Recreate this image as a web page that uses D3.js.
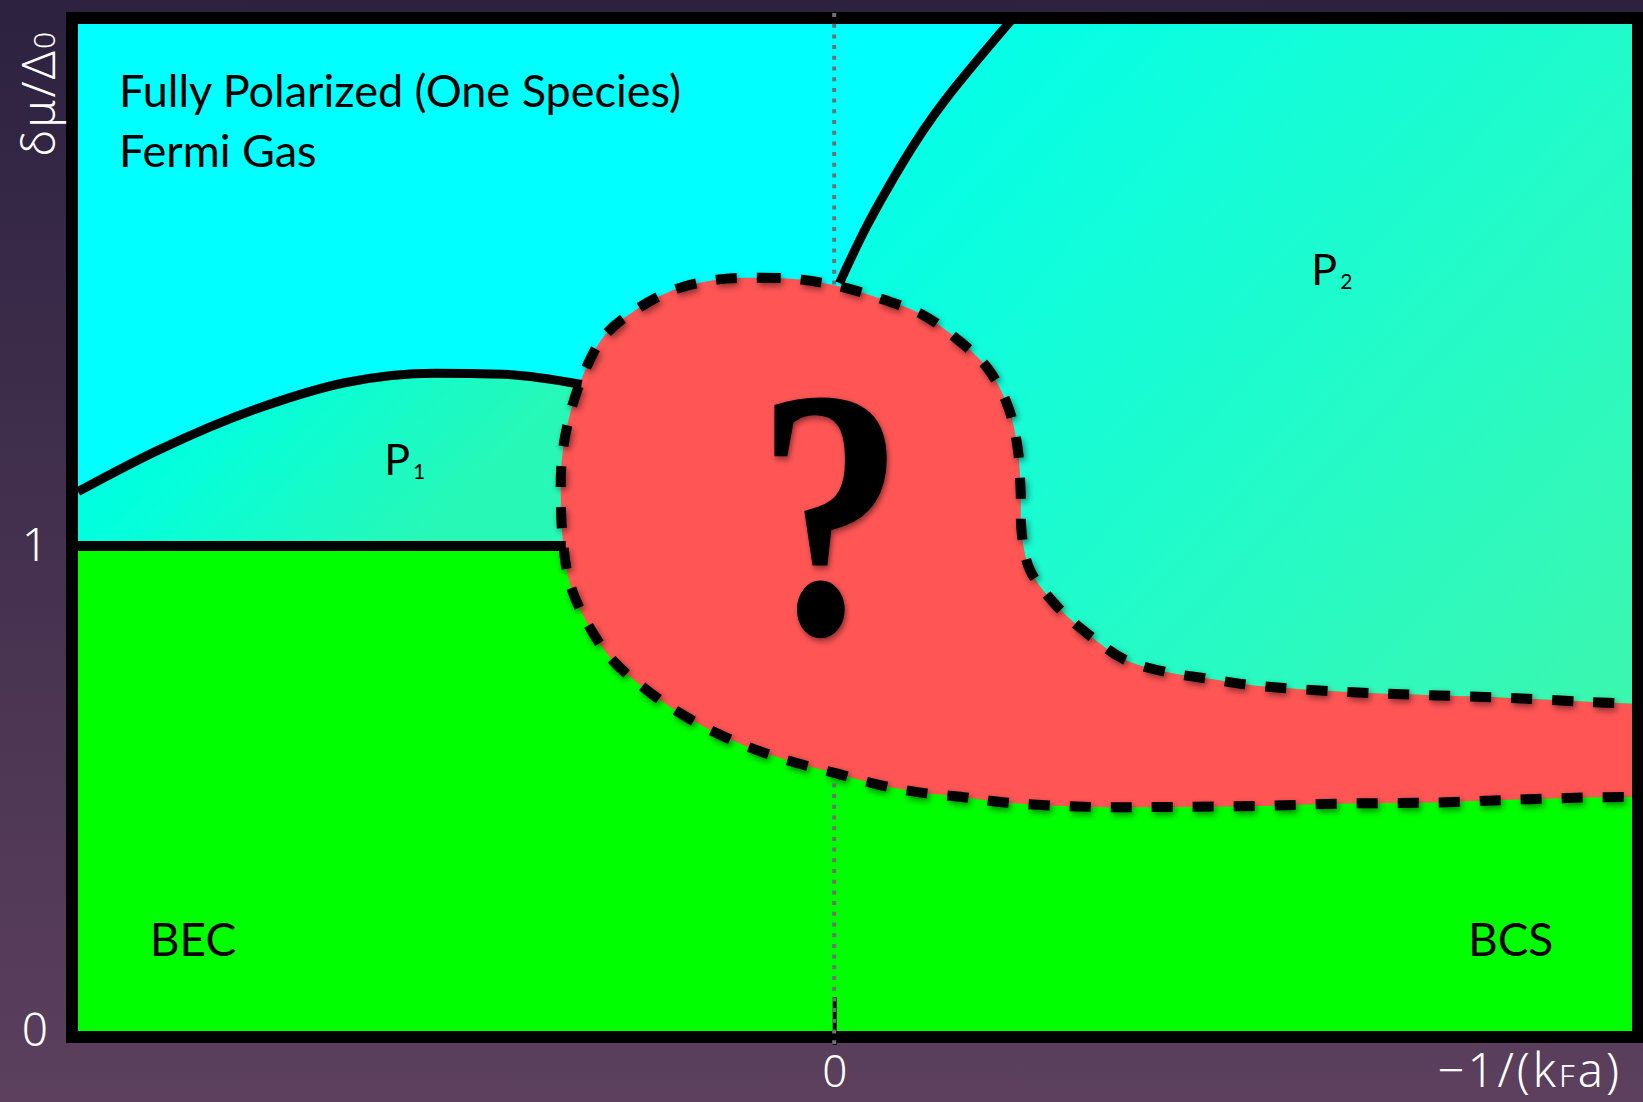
<!DOCTYPE html>
<html><head><meta charset="utf-8">
<script src="https://cdn.jsdelivr.net/npm/d3@7"></script>
<style>html,body{margin:0;padding:0;background:#2c2240;overflow:hidden;} svg{display:block;}</style>
</head><body>
<script>
const W = 1643, H = 1102;

// axes
const xDomain = [-2, 2.11];
const yDomain = [0, 2.076];
const xTicks = [0];
const yTicks = [0, 1];
const yLabel = "δμ/Δ";
const yLabelSub = "0";
const xLabelParts = ["−1/(k", "F", "a)"];

// phase boundaries (x = -1/(kF a), y = δμ/Δ0)
const p1Boundary = [[-2.0,1.112],[-1.789,1.197],[-1.512,1.287],[-1.291,1.337],[-1.055,1.356],[-0.875,1.354],[-0.668,1.333]];
const p1Floor = [[-2.0,1.0],[-0.71,1.0]];
const p2Boundary = [[0.014,1.542],[0.086,1.659],[0.175,1.782],[0.294,1.920],[0.474,2.089],[0.524,2.136]];
// unknown region outline, clockwise from the top
const unknownRegion = [
  [-0.310,1.549],[-0.197,1.553],[-0.086,1.549],[0.025,1.533],[0.130,1.508],[0.233,1.477],
  [0.327,1.425],[0.407,1.365],[0.460,1.287],[0.485,1.203],[0.493,1.114],[0.496,1.026],
  [0.518,0.950],[0.590,0.875],[0.681,0.812],[0.770,0.765],[0.884,0.739],[0.992,0.726],
  [1.102,0.713],[1.330,0.700],[1.548,0.693],[1.776,0.687],[2.006,0.678],[2.2,0.673],
  [2.35,0.673],[2.35,0.482],[2.2,0.482],[2.025,0.482],[1.806,0.477],[1.584,0.471],
  [1.355,0.469],[1.127,0.464],[0.900,0.462],[0.681,0.462],[0.452,0.471],[0.343,0.482],
  [0.224,0.492],[0.116,0.508],[0.006,0.531],[-0.102,0.553],[-0.205,0.579],[-0.316,0.616],
  [-0.416,0.659],[-0.504,0.708],[-0.587,0.765],[-0.651,0.838],[-0.698,0.920],[-0.717,1.006],
  [-0.723,1.095],[-0.720,1.181],[-0.698,1.274],[-0.662,1.356],[-0.609,1.432],[-0.526,1.486],
  [-0.427,1.527]
];

const regionLabels = [
  {text:"BEC", x:-1.81, y:0.155},
  {text:"BCS", x:1.676, y:0.155}
];
const phaseLabels = [
  {main:"P", sub:"1", x:-1.19, y:1.147},
  {main:"P", sub:"2", x:1.262, y:1.538}
];
const titleLines = ["Fully Polarized (One Species)", "Fermi Gas"];

const L = 78, R = 1632, T = 24, B = 1031;
const x = d3.scaleLinear().domain(xDomain).range([L, R]);
const y = d3.scaleLinear().domain(yDomain).range([B, T]);

const svg = d3.select("body").append("svg").attr("width", W).attr("height", H);
const defs = svg.append("defs");

const bg = defs.append("linearGradient").attr("id","bgGrad").attr("x1",0).attr("y1",0).attr("x2",0).attr("y2",1);
bg.append("stop").attr("offset","0%").attr("stop-color","#2c2240");
bg.append("stop").attr("offset","100%").attr("stop-color","#5c405e");

const g2 = defs.append("linearGradient").attr("id","p2Grad").attr("gradientUnits","userSpaceOnUse")
  .attr("x1",900).attr("y1",30).attr("x2",1632).attr("y2",720);
g2.append("stop").attr("offset","0%").attr("stop-color","#00ffec");
g2.append("stop").attr("offset","100%").attr("stop-color","#3cf7ae");

const g1 = defs.append("linearGradient").attr("id","p1Grad").attr("gradientUnits","userSpaceOnUse")
  .attr("x1",250).attr("y1",370).attr("x2",420).attr("y2",545);
g1.append("stop").attr("offset","0%").attr("stop-color","#00ffdf");
g1.append("stop").attr("offset","100%").attr("stop-color","#28f8b6");

const f = defs.append("filter").attr("id","shadow").attr("x","-20%").attr("y","-20%").attr("width","140%").attr("height","140%");
f.append("feDropShadow").attr("dx",2).attr("dy",3).attr("stdDeviation",3).attr("flood-color","#000").attr("flood-opacity",0.45);

defs.append("clipPath").attr("id","plotClip").append("rect")
  .attr("x",L).attr("y",T).attr("width",R-L).attr("height",B-T);

svg.append("rect").attr("width",W).attr("height",H).attr("fill","url(#bgGrad)");

const plot = svg.append("g").attr("clip-path","url(#plotClip)");
plot.append("rect").attr("x",L).attr("y",T).attr("width",R-L).attr("height",B-T).attr("fill","#00ffff");
plot.append("rect").attr("x",L).attr("y",y(1)).attr("width",R-L).attr("height",B-y(1)).attr("fill","#00ff00");

const smoothLine = d3.line().x(d=>x(d[0])).y(d=>y(d[1])).curve(d3.curveMonotoneX);
const naturalLine = d3.line().x(d=>x(d[0])).y(d=>y(d[1])).curve(d3.curveNatural);
const openLine = d3.line().x(d=>x(d[0])).y(d=>y(d[1])).curve(d3.curveCatmullRom.alpha(0.5));

// P1 region
const p1Fill = p1Boundary.concat([[-0.55,1.333]]);
const area1 = d3.area().x(d=>x(d[0])).y0(y(1)).y1(d=>y(d[1])).curve(d3.curveMonotoneX);
plot.append("path").attr("d", area1(p1Fill)).attr("fill","url(#p1Grad)");

// P2 region
const seg = unknownRegion.slice(3, 25).reverse();
const p2d = naturalLine(p2Boundary) + `L${x(2.35)},${y(2.2)}` + openLine(seg).replace(/^M/,"L") + "Z";
plot.append("path").attr("d", p2d).attr("fill","url(#p2Grad)");

// frame
svg.append("rect").attr("x",72).attr("y",18).attr("width",1566).attr("height",1019)
  .attr("fill","none").attr("stroke","#000").attr("stroke-width",12);

// axes
const fontAxis = "'Noto Sans', 'DejaVu Sans', sans-serif";
const yAxis = d3.axisLeft(y).tickValues(yTicks).tickSize(0).tickPadding(18).tickFormat(d3.format("d"));
const ya = svg.append("g").attr("transform","translate(66,0)").call(yAxis);
ya.select(".domain").remove();
ya.selectAll("text").attr("fill","#fff").style("font-family",fontAxis).style("font-size","46px").style("font-weight",300);

const xAxis = d3.axisBottom(x).tickValues(xTicks).tickSize(48).tickPadding(11).tickFormat(d3.format("d"));
const xa = svg.append("g").attr("transform","translate(0,997)").call(xAxis);
xa.select(".domain").remove();
xa.selectAll("line").attr("stroke","#000").attr("stroke-width",4);
xa.selectAll("text").attr("fill","#fff").style("font-family",fontAxis).style("font-size","44px").style("font-weight",300);

// dotted zero line
svg.append("line").attr("x1",x(0)).attr("x2",x(0)).attr("y1",13).attr("y2",1044)
  .attr("stroke","#707070").attr("stroke-width",4).attr("stroke-dasharray","4 6.7");

// unknown region
const closedLine = d3.line().x(d=>x(d[0])).y(d=>y(d[1])).curve(d3.curveCatmullRomClosed.alpha(0.5));
const plot2 = svg.append("g").attr("clip-path","url(#plotClip)");
plot2.append("path").attr("d", closedLine(unknownRegion)).attr("fill","#ff5555");
plot2.append("path").attr("d", closedLine(unknownRegion)).attr("fill","none")
  .attr("stroke","#000").attr("stroke-width",10).attr("stroke-dasharray","21 20").attr("filter","url(#shadow)");

// solid boundaries
plot2.append("path").attr("d", smoothLine(p1Boundary)).attr("fill","none").attr("stroke","#000").attr("stroke-width",9);
plot2.append("path").attr("d", smoothLine(p1Floor)).attr("fill","none").attr("stroke","#000").attr("stroke-width",10);
plot2.append("path").attr("d", naturalLine(p2Boundary)).attr("fill","none").attr("stroke","#000").attr("stroke-width",9);

// question mark
svg.append("text").attr("transform", `translate(${x(-0.01)},${y(0.82)}) scale(0.83,1)`).attr("text-anchor","middle")
  .style("font-family","'Liberation Serif', 'DejaVu Serif', serif").style("font-weight","bold").style("font-size","356px")
  .attr("fill","#000").attr("filter","url(#shadow)").text("?");

// texts
const fontLab = "Lato, 'Open Sans', sans-serif";
svg.selectAll(".title").data(titleLines).enter().append("text")
  .attr("x",119).attr("y",(d,i)=>107+i*60).attr("fill","#000")
  .style("font-family",fontLab).style("font-size","45px").text(d=>d);

svg.selectAll(".reg").data(regionLabels).enter().append("text")
  .attr("x",d=>x(d.x)).attr("y",d=>y(d.y)).attr("fill","#000")
  .style("font-family",fontLab).style("font-size","46px").text(d=>d.text);

const pl = svg.selectAll(".ph").data(phaseLabels).enter().append("text")
  .attr("x",d=>x(d.x)).attr("y",d=>y(d.y)).attr("fill","#000")
  .style("font-family",fontLab).style("font-size","43px");
pl.append("tspan").text(d=>d.main);
pl.append("tspan").attr("dx",3).attr("dy",4).style("font-size","21px").text(d=>d.sub);

// axis titles
const yl = svg.append("text").attr("transform","translate(55,93) rotate(-90)").attr("text-anchor","middle")
  .attr("fill","#fff").style("font-family",fontAxis).style("font-size","46px").style("font-weight",300)
  .style("letter-spacing","2px");
yl.append("tspan").text(yLabel);
yl.append("tspan").style("font-size","30px").text(yLabelSub);

const xl = svg.append("text").attr("x",1622).attr("y",1087).attr("text-anchor","end")
  .attr("fill","#fff").style("font-family",fontAxis).style("font-size","47px").style("font-weight",300)
  .style("letter-spacing","3px");
xl.append("tspan").text(xLabelParts[0]);
xl.append("tspan").style("font-size","31px").text(xLabelParts[1]);
xl.append("tspan").text(xLabelParts[2]);
</script>
</body></html>
